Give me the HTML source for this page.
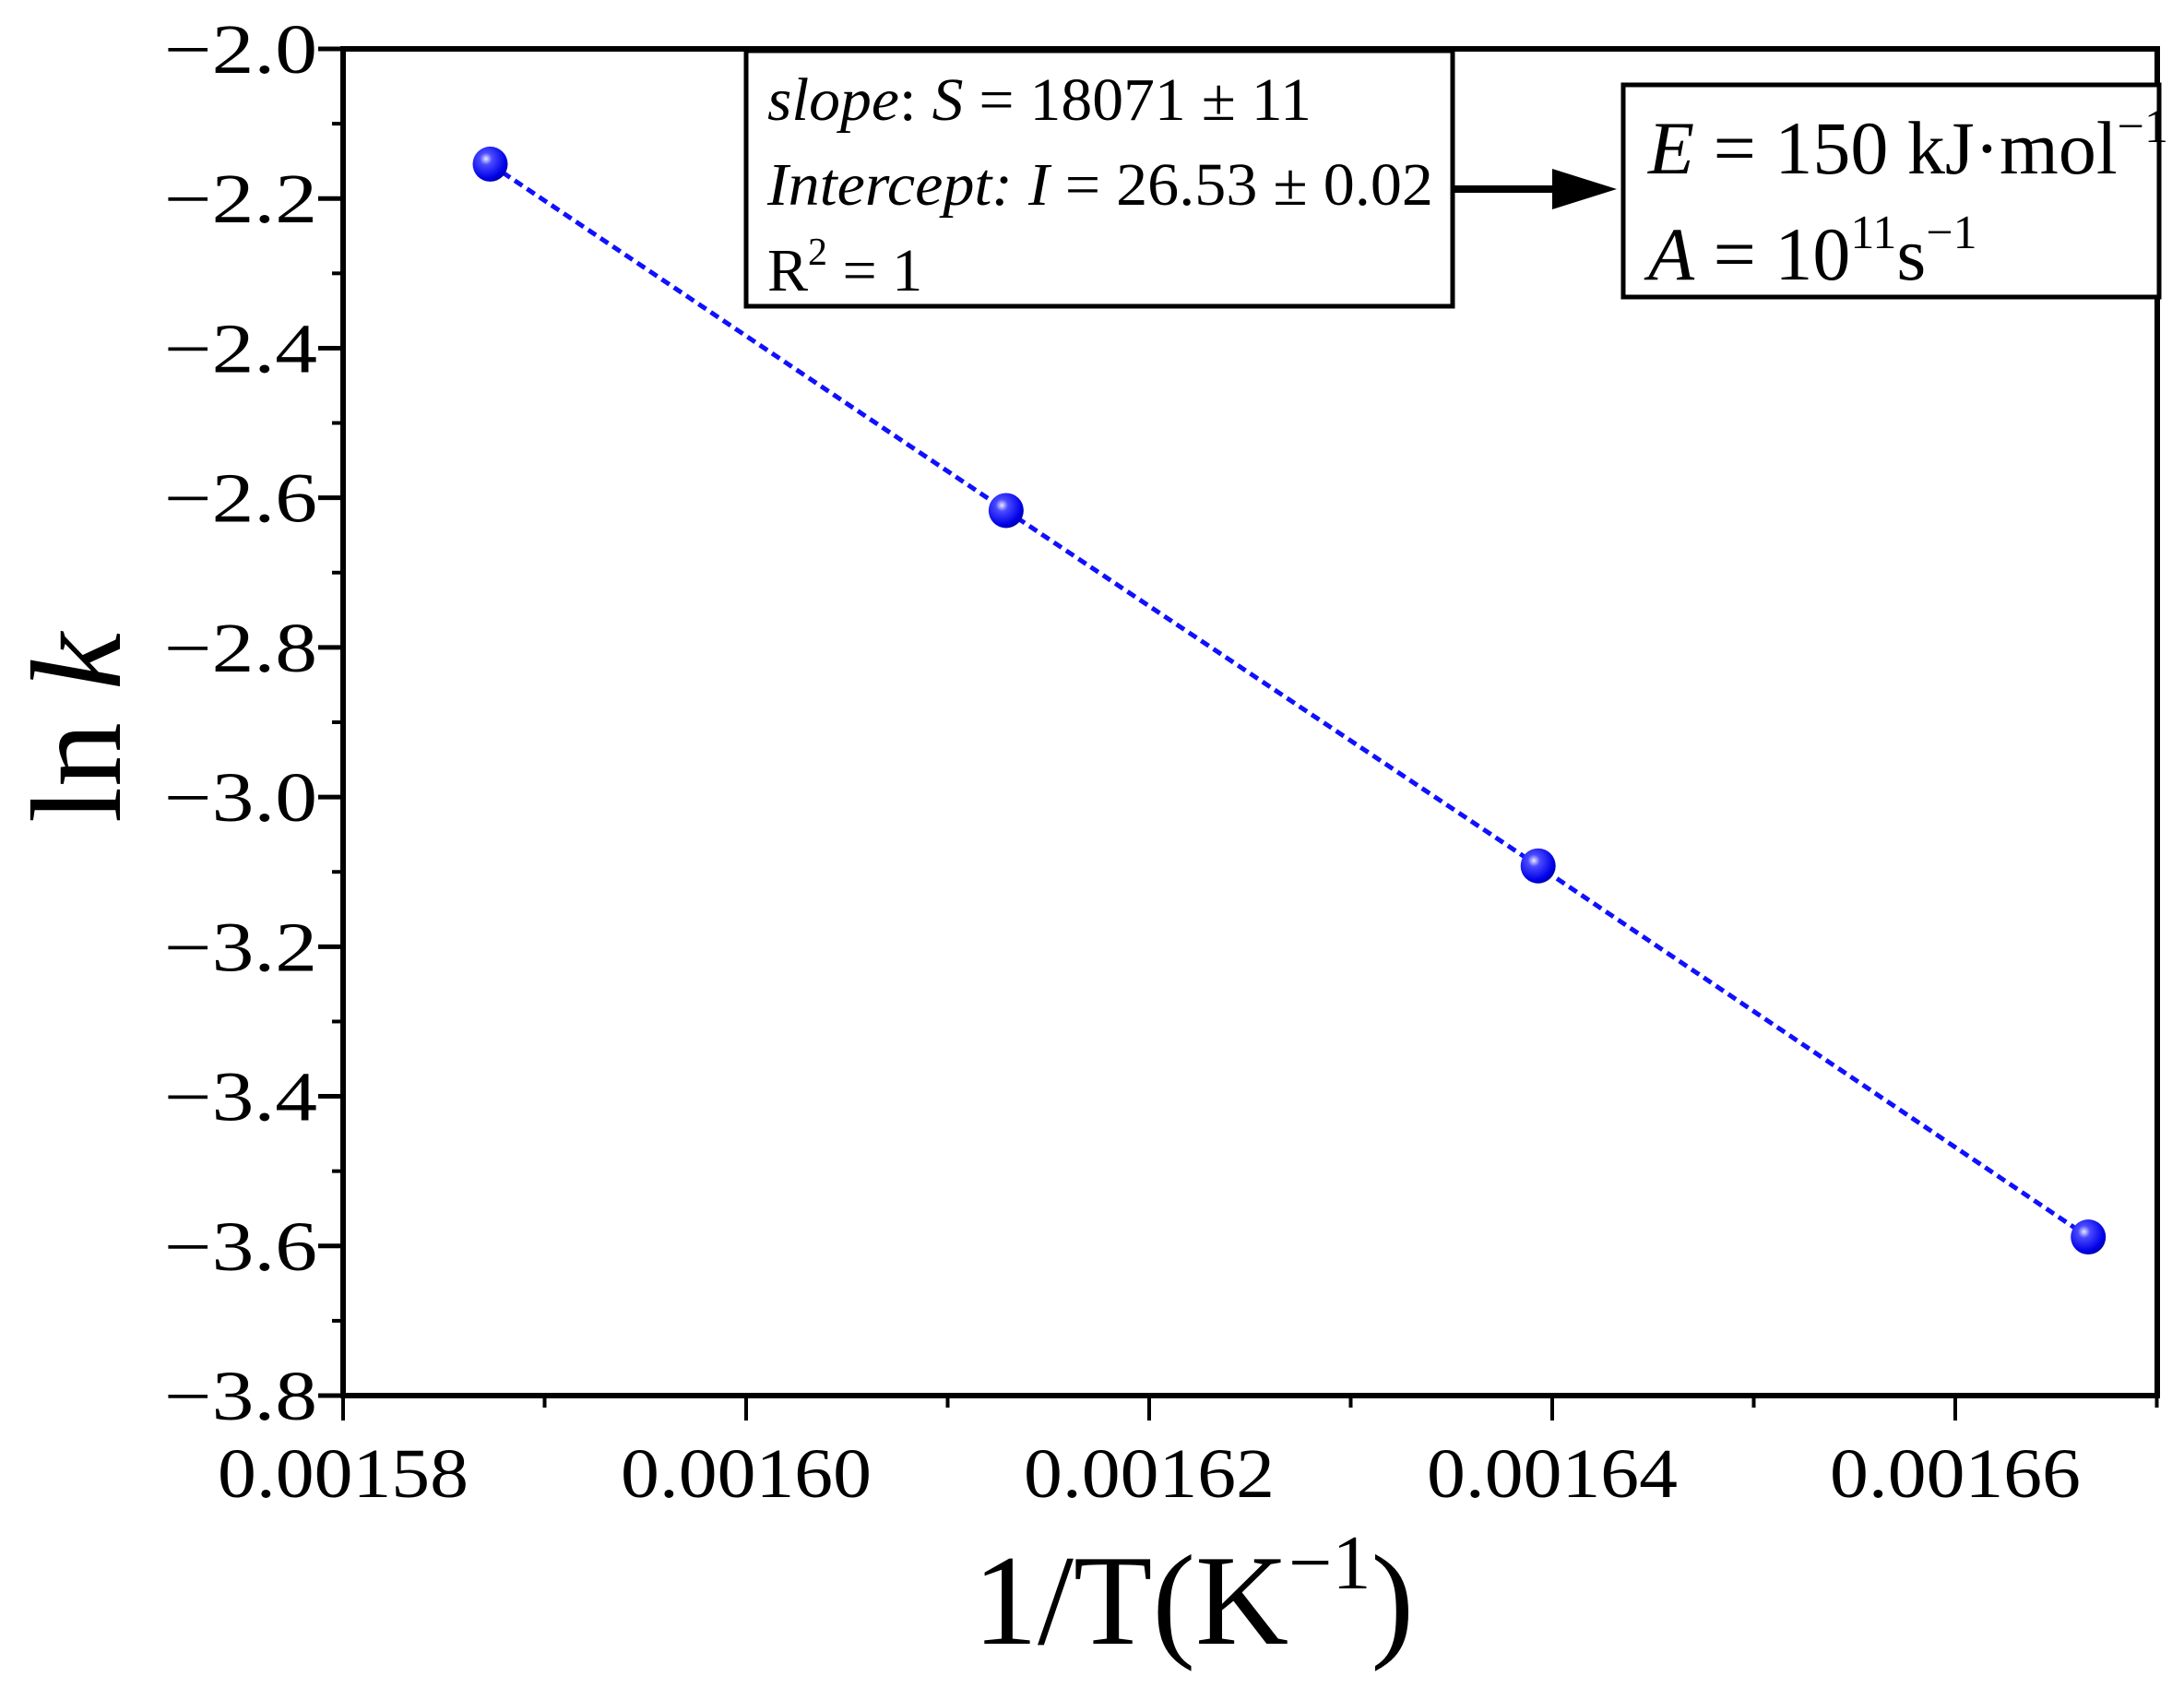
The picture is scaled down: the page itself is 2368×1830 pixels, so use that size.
<!DOCTYPE html>
<html><head><meta charset="utf-8"><style>
html,body{margin:0;padding:0;background:#fff;}
svg{display:block;font-family:"Liberation Serif",serif;}
</style></head><body>
<svg id="chart" width="2368" height="1830" viewBox="0 0 2368 1830" xmlns="http://www.w3.org/2000/svg">
<defs>
<radialGradient id="ball" cx="0.38" cy="0.35" r="0.7">
<stop offset="0" stop-color="#e8e8ff"/><stop offset="0.25" stop-color="#4a4aff"/><stop offset="0.8" stop-color="#0000e8"/><stop offset="1" stop-color="#0000a0"/>
</radialGradient>
</defs>
<g id="plot"></g>
</svg>
<script>
const xValues=[0.0015873,0.0016129,0.0016393,0.0016666];
const yValues=[-2.154,-2.617,-3.092,-3.588];
const xTicks=[0.00158,0.00160,0.00162,0.00164,0.00166];
const xTickLabels=["0.00158","0.00160","0.00162","0.00164","0.00166"];
const yTicks=[-2.0,-2.2,-2.4,-2.6,-2.8,-3.0,-3.2,-3.4,-3.6,-3.8];
const yTickLabels=["\u22122.0","\u22122.2","\u22122.4","\u22122.6","\u22122.8","\u22123.0","\u22123.2","\u22123.4","\u22123.6","\u22123.8"];

const L=372,R=2339,T=53,B=1513;
const X0=0.00158,X1=0.00158+(R-L)/437*0.00002;
const Y0=-3.8,Y1=-2.0;
const sx=v=>L+(v-X0)/(X1-X0)*(R-L);
const sy=v=>B-(v-Y0)/(Y1-Y0)*(B-T);
const NS="http://www.w3.org/2000/svg";
const g=document.getElementById('plot');
function mk(tag,attrs,parent){const e=document.createElementNS(NS,tag);for(const k in attrs)e.setAttribute(k,attrs[k]);(parent||g).appendChild(e);return e;}

const fit=mk('polyline',{points:xValues.map((x,i)=>sx(x)+','+sy(yValues[i])).join(' '),fill:'none',stroke:'#1010ff','stroke-width':5,'stroke-dasharray':'10 6'});



xValues.forEach((x,i)=>{
  const c=mk('circle',{cx:sx(x),cy:sy(yValues[i]),r:19,fill:'url(#ball)'});
  
  
});

yTicks.forEach((v,i)=>{
  const y=sy(v);
  const t=mk('line',{x1:L-27,x2:L,y1:y,y2:y,stroke:'#000','stroke-width':5});
  
  
  if(i<yTicks.length-1){
    const m=mk('line',{x1:L-12,x2:L,y1:sy(v-0.1),y2:sy(v-0.1),stroke:'#000','stroke-width':4});
    
    
  }
  const lb=mk('text',{x:344,y:y+26,'font-size':76,'text-anchor':'end',textLength:166,lengthAdjust:'spacingAndGlyphs'});
  lb.textContent=yTickLabels[i];
  
  
});
xTicks.forEach((v,i)=>{
  const x=sx(v);
  const t=mk('line',{x1:x,x2:x,y1:B,y2:B+27,stroke:'#000','stroke-width':4});
  
  
  const mx=sx(v+0.00001);
  if(mx<R){
    const m=mk('line',{x1:mx,x2:mx,y1:B,y2:B+13,stroke:'#000','stroke-width':4});
    
    
  }
  const lb=mk('text',{x:x,y:1623,'font-size':76,'text-anchor':'middle',textLength:272,lengthAdjust:'spacingAndGlyphs'});
  lb.textContent=xTickLabels[i];
  
  
});
</script>
<svg style="position:absolute;left:0;top:0" width="2368" height="1830" xmlns="http://www.w3.org/2000/svg" font-family="Liberation Serif, serif">
<rect x="372" y="53" width="1967" height="1460" fill="none" stroke="#000" stroke-width="6"/>
<g>
<rect x="809" y="55" width="766" height="277" fill="#fff" stroke="#000" stroke-width="5"/>
<text x="832" y="130" font-size="66" textLength="590" lengthAdjust="spacingAndGlyphs"><tspan font-style="italic">slope</tspan>: <tspan font-style="italic">S</tspan> = 18071 ± 11</text>
<text x="832" y="222" font-size="66" textLength="722" lengthAdjust="spacingAndGlyphs"><tspan font-style="italic">Intercept: I</tspan> = 26.53 ± 0.02</text>
<text x="832" y="315" font-size="66">R<tspan font-size="42" dy="-28">2</tspan><tspan dy="28"> = 1</tspan></text>
</g>
<g>
<line x1="1577" y1="205" x2="1690" y2="205" stroke="#000" stroke-width="8"/>
<polygon points="1683,183 1753,205 1683,227" fill="#000"/>
</g>
<g>
<rect x="1760" y="92" width="581" height="230" fill="#fff" stroke="#000" stroke-width="5"/>
<text x="1787" y="188" font-size="82"><tspan font-style="italic">E</tspan> = 150 kJ·mol<tspan font-size="52" dy="-34">−1</tspan></text>
<text x="1787" y="303" font-size="82"><tspan font-style="italic">A</tspan> = 10<tspan font-size="52" dy="-34">11</tspan><tspan dy="34">s</tspan><tspan font-size="52" dy="-34">−1</tspan></text>
</g>
<text x="1055" y="1782" font-size="140">1/T(K<tspan font-size="84" dy="-60">−1</tspan><tspan dy="60">)</tspan></text>
<text transform="translate(130,789) rotate(-90)" text-anchor="middle" font-size="140">ln <tspan font-style="italic">k</tspan></text>
</svg>
</body></html>
